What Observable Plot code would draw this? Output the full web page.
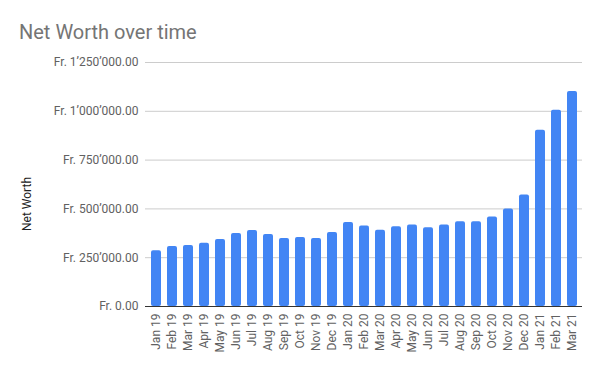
<!DOCTYPE html>
<html><head><meta charset="utf-8">
<script src="https://cdn.jsdelivr.net/npm/d3@7"></script>
<script src="https://cdn.jsdelivr.net/npm/@observablehq/plot@0.6"></script>
<style>
body{margin:0;background:#fff;font-family:Roboto,sans-serif}
#wrap{position:relative;width:600px;height:371px;overflow:hidden}
#title{position:absolute;left:19px;top:22px;font-size:20px;line-height:20px;color:#757575;white-space:nowrap}
#ylab{position:absolute;left:27px;top:204px;transform:translate(-50%,-50%) rotate(-90deg);font-size:12px;line-height:12px;color:#222;white-space:nowrap}
</style></head><body>
<div id="wrap"><div id="chart"></div><div id="title">Net Worth over time</div><div id="ylab">Net Worth</div></div>
<script>
const months = ["Jan 19","Feb 19","Mar 19","Apr 19","May 19","Jun 19","Jul 19","Aug 19","Sep 19","Oct 19","Nov 19","Dec 19",
  "Jan 20","Feb 20","Mar 20","Apr 20","May 20","Jun 20","Jul 20","Aug 20","Sep 20","Oct 20","Nov 20","Dec 20",
  "Jan 21","Feb 21","Mar 21"];
const netWorth = [286000,308000,313000,324000,343000,374000,389000,369000,348000,354000,348000,379000,
  430000,413000,391000,408000,418000,403000,418000,434000,434000,459000,500000,571000,
  903000,1005000,1102000];
const yTicks = [0,250000,500000,750000,1000000,1250000];

const data = months.map((m,i)=>({month:m, value:netWorth[i]}));
const fmt = d => "Fr. " + d3.format(",.2f")(d).replace(/,/g, "\u2019");

const chart = Plot.plot({
  width:600, height:371,
  marginLeft:145, marginRight:18, marginTop:62, marginBottom:65,
  style:{fontFamily:"Roboto, sans-serif", fontSize:"12px", color:"#616161", background:"#fff"},
  x:{domain:months, paddingInner:0.375, paddingOuter:0.34, tickRotate:-90, tickSize:0, tickPadding:7, label:null},
  y:{domain:[0,1250000], ticks:yTicks, tickFormat:fmt, tickSize:0, tickPadding:7, label:null},
  marks:[
    Plot.ruleY(yTicks.filter(d=>d>0), {stroke:"#cccccc"}),
    Plot.barY(data, {x:"month", y:"value", fill:"#4285f4", rx:2}),
    Plot.ruleY([0], {stroke:"#333333"})
  ]
});
document.getElementById("chart").appendChild(chart);
</script>
</body></html>
